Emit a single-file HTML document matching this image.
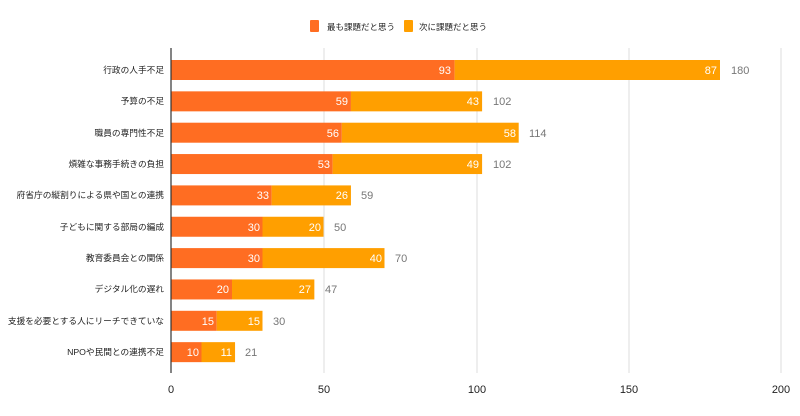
<!DOCTYPE html>
<html><head><meta charset="utf-8"><style>body{margin:0;background:#fff}svg{display:block}text{font-family:"Liberation Sans","Noto Sans CJK JP",sans-serif}</style></head><body>
<svg width="800" height="416" xmlns="http://www.w3.org/2000/svg">
<rect x="310" y="20" width="9" height="12" fill="#FF6D22" rx="1"/>
<text x="327" y="30" font-size="8.5" fill="#222">最も課題だと思う</text>
<rect x="404" y="20" width="9" height="12" fill="#FF9F00" rx="1"/>
<text x="419" y="30" font-size="8.5" fill="#222">次に課題だと思う</text>
<g stroke="#ddd" stroke-width="1">
<line x1="324" y1="48" x2="324" y2="373"/><line x1="477" y1="48" x2="477" y2="373"/><line x1="629" y1="48" x2="629" y2="373"/><line x1="781" y1="48" x2="781" y2="373"/>
</g>
<g font-size="11" fill="#222" text-anchor="middle">
<text x="171" y="393">0</text><text x="324" y="393">50</text><text x="477" y="393">100</text><text x="629" y="393">150</text><text x="781" y="393">200</text>
</g>
<g font-size="8.7" fill="#222" text-anchor="end">
<text x="164" y="73">行政の人手不足</text>
<text x="164" y="104">予算の不足</text>
<text x="164" y="136">職員の専門性不足</text>
<text x="164" y="167">煩雑な事務手続きの負担</text>
<text x="164" y="198">府省庁の縦割りによる県や国との連携</text>
<text x="164" y="230">子どもに関する部局の編成</text>
<text x="164" y="261">教育委員会との関係</text>
<text x="164" y="292">デジタル化の遅れ</text>
<text x="164" y="324">支援を必要とする人にリーチできていな</text>
<text x="164" y="355">NPOや民間との連携不足</text>
</g>
<g fill="#FF6D22">
<rect x="171" y="60" width="283.65" height="20"/>
<rect x="171" y="91.35" width="179.95" height="20"/>
<rect x="171" y="122.7" width="170.8" height="20"/>
<rect x="171" y="154.05" width="161.65" height="20"/>
<rect x="171" y="185.4" width="100.65" height="20"/>
<rect x="171" y="216.75" width="91.5" height="20"/>
<rect x="171" y="248.1" width="91.5" height="20"/>
<rect x="171" y="279.45" width="61" height="20"/>
<rect x="171" y="310.8" width="45.75" height="20"/>
<rect x="171" y="342.15" width="30.5" height="20"/>
</g>
<g fill="#FF9F00">
<rect x="454.65" y="60" width="265.35" height="20"/>
<rect x="350.95" y="91.35" width="131.15" height="20"/>
<rect x="341.8" y="122.7" width="176.9" height="20"/>
<rect x="332.65" y="154.05" width="149.45" height="20"/>
<rect x="271.65" y="185.4" width="79.3" height="20"/>
<rect x="262.5" y="216.75" width="61" height="20"/>
<rect x="262.5" y="248.1" width="122" height="20"/>
<rect x="232" y="279.45" width="82.35" height="20"/>
<rect x="216.75" y="310.8" width="45.75" height="20"/>
<rect x="201.5" y="342.15" width="33.55" height="20"/>
</g>
<g font-size="11" fill="#fff" text-anchor="end">
<text x="451" y="74">93</text><text x="717" y="74">87</text>
<text x="348" y="105">59</text><text x="479" y="105">43</text>
<text x="339" y="137">56</text><text x="516" y="137">58</text>
<text x="330" y="168">53</text><text x="479" y="168">49</text>
<text x="269" y="199">33</text><text x="348" y="199">26</text>
<text x="260" y="231">30</text><text x="321" y="231">20</text>
<text x="260" y="262">30</text><text x="382" y="262">40</text>
<text x="229" y="293">20</text><text x="311" y="293">27</text>
<text x="214" y="325">15</text><text x="260" y="325">15</text>
<text x="199" y="356">10</text><text x="232" y="356">11</text>
</g>
<g font-size="11" fill="#777">
<text x="731" y="74">180</text>
<text x="493" y="105">102</text>
<text x="529" y="137">114</text>
<text x="493" y="168">102</text>
<text x="361" y="199">59</text>
<text x="334" y="231">50</text>
<text x="395" y="262">70</text>
<text x="325" y="293">47</text>
<text x="273" y="325">30</text>
<text x="245" y="356">21</text>
</g>
<line x1="171" y1="48" x2="171" y2="373" stroke="#333" stroke-width="1.2"/>
</svg>
</body></html>
